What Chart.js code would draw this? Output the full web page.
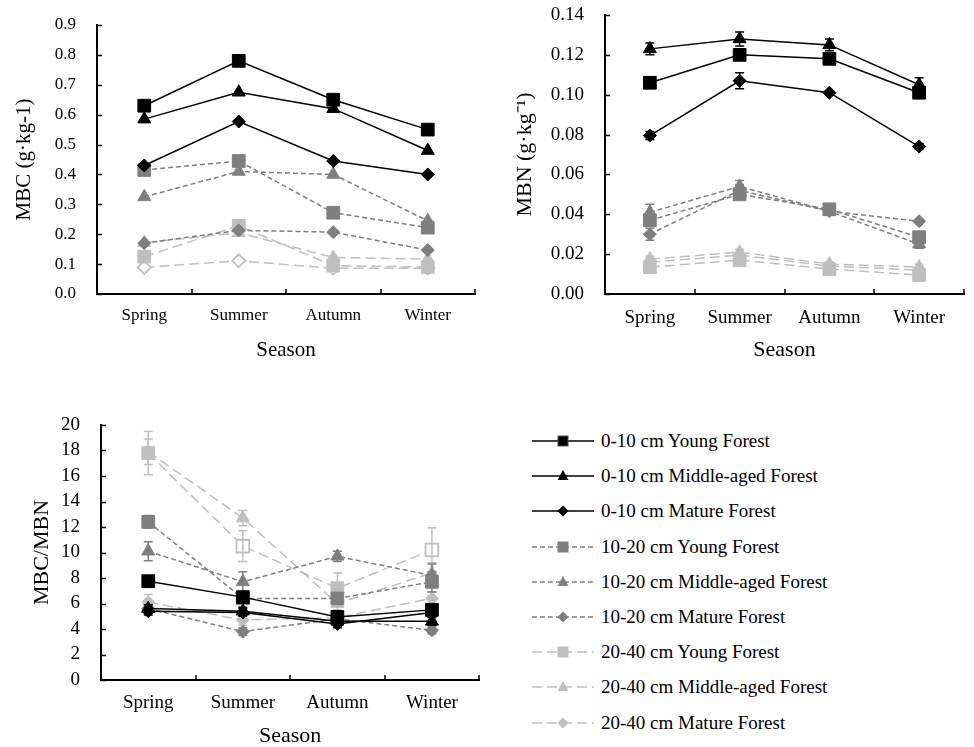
<!DOCTYPE html>
<html>
<head>
<meta charset="utf-8">
<script src="https://cdn.jsdelivr.net/npm/chart.js@4.4.0/dist/chart.umd.min.js"></script>
<style>
  body { margin: 0; background: #fff; width: 974px; height: 747px; position: relative; overflow: hidden;
         font-family: "Liberation Serif", "Times New Roman", serif; }
  .box { position: absolute; }
  .row { position: absolute; left: 532px; height: 24px; display: flex; align-items: center;
         white-space: nowrap; font-size: 19px; color: #000; }
  .row svg { margin-right: 7px; }
</style>
</head>
<body>
<div class="box" style="left:0;top:0;width:490px;height:370px"><canvas id="mbc"></canvas></div>
<div class="box" style="left:490px;top:0;width:484px;height:370px"><canvas id="mbn"></canvas></div>
<div class="box" style="left:0;top:400px;width:490px;height:347px"><canvas id="ratio"></canvas></div>
<div id="legend"></div>

<script>
// 데이터
const seasons = ['Spring', 'Summer', 'Autumn', 'Winter'];
const seriesNames = [
  '0-10 cm Young Forest', '0-10 cm Middle-aged Forest', '0-10 cm Mature Forest',
  '10-20 cm Young Forest', '10-20 cm Middle-aged Forest', '10-20 cm Mature Forest',
  '20-40 cm Young Forest', '20-40 cm Middle-aged Forest', '20-40 cm Mature Forest'
];

const mbcValues = [
  [0.63, 0.78, 0.65, 0.55],
  [0.585, 0.675, 0.62, 0.48],
  [0.43, 0.577, 0.445, 0.40],
  [0.415, 0.445, 0.272, 0.222],
  [0.325, 0.41, 0.40, 0.245],
  [0.17, 0.213, 0.207, 0.147],
  [0.125, 0.228, 0.095, 0.09],
  [0.172, 0.205, 0.122, 0.117],
  [0.089, 0.111, 0.086, 0.086]
];

const mbnValues = [
  [0.106, 0.120, 0.118, 0.101],
  [0.123, 0.128, 0.125, 0.105],
  [0.0795, 0.107, 0.101, 0.074],
  [0.037, 0.050, 0.0425, 0.0285],
  [0.041, 0.054, 0.0415, 0.025],
  [0.030, 0.052, 0.0415, 0.0365],
  [0.0135, 0.017, 0.0125, 0.0095],
  [0.0175, 0.021, 0.015, 0.0135],
  [0.016, 0.0195, 0.014, 0.012]
];
const mbnErrors = [
  [0.0015, 0.0015, 0.0015, 0.0015],
  [0.003, 0.0035, 0.003, 0.0035],
  [0.002, 0.004, 0.001, 0.0015],
  [0.003, 0.002, 0.001, 0.002],
  [0.004, 0.003, 0.001, 0.002],
  [0.003, 0.003, 0.001, 0.001],
  [0.001, 0.001, 0.001, 0.001],
  [0.0015, 0.0015, 0.001, 0.0015],
  [0.001, 0.001, 0.001, 0.001]
];

const ratioValues = [
  [7.75, 6.5, 4.95, 5.5],
  [5.6, 5.4, 4.6, 4.6],
  [5.4, 5.3, 4.4, 5.3],
  [12.4, 6.4, 6.4, 7.7],
  [10.1, 7.7, 9.7, 8.2],
  [5.6, 3.8, 4.8, 3.9],
  [17.8, 10.5, 7.2, 10.2],
  [17.9, 12.7, 6.0, 8.4],
  [6.1, 4.7, 4.9, 6.4]
];
const ratioErrors = [
  [0.3, 0.3, 0.3, 0.3],
  [0.3, 0.3, 0.2, 0.3],
  [0.3, 0.3, 0.3, 0.3],
  [0.5, 0.4, 0.4, 0.8],
  [0.75, 0.8, 0.4, 0.9],
  [0.3, 0.3, 0.3, 0.3],
  [1.7, 1.2, 1.2, 1.75],
  [1.0, 0.6, 0.5, 0.8],
  [0.6, 0.4, 0.4, 0.5]
];

// 스타일
const seriesColors = ['#000000', '#000000', '#000000', '#7f7f7f', '#7f7f7f', '#7f7f7f', '#bfbfbf', '#bfbfbf', '#bfbfbf'];
const seriesDash = [[], [], [], [5, 3], [5, 3], [5, 3], [10, 5], [10, 5], [10, 5]];
const seriesShapes = ['rect', 'triangle', 'rectRot', 'rect', 'triangle', 'rectRot', 'rect', 'triangle', 'rectRot'];
const seriesRadius = [9, 7.5, 6.5, 9, 7.5, 6.5, 9, 7.5, 6.5];
// 속이 빈 마커 (시리즈 번호 -> 계절별)
const hollowMbc = { 8: [true, true, true, true] };
const hollowRatio = { 6: [false, true, false, true] };

const FONT = '"Liberation Serif", "Times New Roman", serif';

// 축 안쪽 눈금
const innerTicks = {
  id: 'innerTicks',
  afterDraw(chart) {
    const { ctx, chartArea: a, scales: { x, y } } = chart;
    ctx.save();
    ctx.strokeStyle = '#000';
    ctx.lineWidth = 1.5;
    ctx.beginPath();
    y.ticks.forEach(t => {
      const py = Math.round(y.getPixelForValue(t.value)) + 0.5;
      ctx.moveTo(a.left, py);
      ctx.lineTo(a.left + 5, py);
    });
    const step = (a.right - a.left) / x.ticks.length;
    for (let i = 1; i <= x.ticks.length; i++) {
      const px = Math.round(a.left + i * step);
      ctx.moveTo(px, a.bottom);
      ctx.lineTo(px, a.bottom - 5);
    }
    ctx.stroke();
    ctx.restore();
  }
};

// 오차 막대
const errorBars = {
  id: 'errorBars',
  afterDatasetDraw(chart, args, opts) {
    const errs = opts.errors;
    if (!errs) return;
    const i = args.index;
    const y = chart.scales.y;
    const vals = chart.data.datasets[i].data;
    const ctx = chart.ctx;
    ctx.save();
    ctx.strokeStyle = seriesColors[i];
    ctx.lineWidth = 1.5;
    ctx.beginPath();
    args.meta.data.forEach((pt, j) => {
      const e = errs[i][j];
      if (!e) return;
      const top = y.getPixelForValue(vals[j] + e);
      const bot = y.getPixelForValue(vals[j] - e);
      ctx.moveTo(pt.x, top); ctx.lineTo(pt.x, bot);
      ctx.moveTo(pt.x - 4.5, top); ctx.lineTo(pt.x + 4.5, top);
      ctx.moveTo(pt.x - 4.5, bot); ctx.lineTo(pt.x + 4.5, bot);
    });
    ctx.stroke();
    ctx.restore();
  }
};

function buildDatasets(values, hollow) {
  return values.map((vals, i) => {
    const h = hollow[i] || [];
    return {
      label: seriesNames[i],
      data: vals,
      borderColor: seriesColors[i],
      borderWidth: 1.5,
      borderDash: seriesDash[i],
      pointStyle: seriesShapes[i],
      pointRadius: seriesRadius[i],
      pointHoverRadius: seriesRadius[i],
      pointBackgroundColor: vals.map((v, j) => h[j] ? '#ffffff' : seriesColors[i]),
      pointBorderColor: seriesColors[i],
      pointBorderWidth: vals.map((v, j) => h[j] ? 1.8 : 1),
      tension: 0,
      fill: false
    };
  });
}

function makeChart(id, values, cfg) {
  return new Chart(document.getElementById(id), {
    type: 'line',
    data: { labels: seasons, datasets: buildDatasets(values, cfg.hollow || {}) },
    plugins: [innerTicks, errorBars],
    options: {
      responsive: true,
      maintainAspectRatio: false,
      animation: false,
      layout: { padding: cfg.padding },
      plugins: {
        legend: { display: false },
        tooltip: { enabled: false },
        errorBars: { errors: cfg.errors || null }
      },
      scales: {
        x: {
          offset: true,
          afterFit: s => { s.height = cfg.xHeight; },
          grid: { display: true, offset: true, drawOnChartArea: false, drawTicks: false },
          border: { display: true, color: '#000', width: 2 },
          ticks: { color: '#000', padding: cfg.xTickPad, font: { family: FONT, size: cfg.tickSize } },
          title: {
            display: true, text: 'Season', color: '#000',
            font: { family: FONT, size: cfg.titleSize, lineHeight: cfg.xTitleLH || 1.2 },
            padding: { top: 0, bottom: cfg.xTitlePad }
          }
        },
        y: {
          min: cfg.min, max: cfg.max,
          afterFit: s => { s.width = cfg.yWidth; s.paddingTop = 0; s.paddingBottom = 0; },
          grid: { display: true, drawOnChartArea: false, drawTicks: false },
          border: { display: true, color: '#000', width: 2 },
          ticks: {
            stepSize: cfg.step, color: '#000', padding: 21, autoSkip: false,
            font: { family: FONT, size: cfg.tickSize },
            callback: v => Number(v).toFixed(cfg.decimals)
          },
          title: {
            display: true, text: cfg.yTitle, color: '#000',
            font: { family: FONT, size: cfg.titleSize },
            padding: { top: cfg.yTitlePad, bottom: 0 }
          }
        }
      }
    }
  });
}

makeChart('mbc', mbcValues, {
  hollow: hollowMbc, min: 0, max: 0.9, step: 0.1, decimals: 1, yTitle: 'MBC (g·kg-1)',
  padding: { top: 25, right: 15, left: 0, bottom: 0 },
  yWidth: 97, xHeight: 76, tickSize: 17, titleSize: 21, yTitlePad: 12, xTitlePad: 7, xTickPad: 11
});

makeChart('mbn', mbnValues, {
  errors: mbnErrors, min: 0, max: 0.14, step: 0.02, decimals: 2, yTitle: 'MBN (g·kg⁻¹)',
  padding: { top: 15, right: 4, left: 0, bottom: 0 },
  yWidth: 115, xHeight: 76, tickSize: 19, titleSize: 22, yTitlePad: 22, xTitlePad: 7, xTickPad: 12.5
});

makeChart('ratio', ratioValues, {
  hollow: hollowRatio, errors: ratioErrors, min: 0, max: 20, step: 2, decimals: 0, yTitle: 'MBC/MBN',
  padding: { top: 25, right: 10, left: 0, bottom: 0 },
  yWidth: 101, xHeight: 67, tickSize: 19, titleSize: 22, yTitlePad: 29, xTitlePad: 0, xTitleLH: 1, xTickPad: 11.5
});

// 범례 (HTML)
function markerSvg(shape, color) {
  if (shape === 'rect') return `<rect x="26" y="5" width="10" height="10" fill="${color}" stroke="${color === '#000000' ? '#555' : color}" stroke-width="1"/>`;
  if (shape === 'triangle') return `<polygon points="31,4 36.5,14 25.5,14" fill="${color}"/>`;
  return `<polygon points="31,4.5 36.5,10 31,15.5 25.5,10" fill="${color}"/>`;
}
const legend = document.getElementById('legend');
seriesNames.forEach((name, i) => {
  const row = document.createElement('div');
  row.className = 'row';
  row.style.top = (441 + i * 35.2 - 12) + 'px';
  const dash = seriesDash[i].length ? `stroke-dasharray="${seriesDash[i].join(',')}"` : '';
  row.innerHTML =
    `<svg width="62" height="20"><line x1="0" y1="10" x2="62" y2="10" stroke="${seriesColors[i]}" stroke-width="1.5" ${dash}/>` +
    markerSvg(seriesShapes[i], seriesColors[i]) + `</svg><span>${name}</span>`;
  legend.appendChild(row);
});
</script>
</body>
</html>
